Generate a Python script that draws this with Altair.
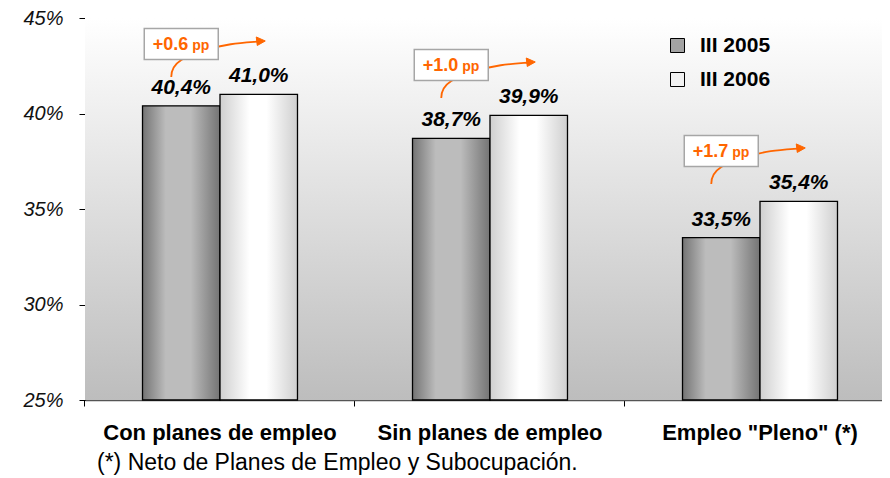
import altair as alt
import pandas as pd

# ---------------- data ----------------
categories = ["Con planes de empleo", "Sin planes de empleo", 'Empleo "Pleno" (*)']
series = ["III 2005", "III 2006"]
v2005 = [40.4, 38.7, 33.5]
v2006 = [41.0, 39.9, 35.4]
diff_labels = ["+0.6", "+1.0", "+1.7"]
footnote = "(*) Neto de Planes de Empleo y Subocupación."

rows = []
for c, a, b in zip(categories, v2005, v2006):
    rows.append({"category": c, "series": series[0], "value": a})
    rows.append({"category": c, "series": series[1], "value": b})
df = pd.DataFrame(rows)

ann = pd.DataFrame({
    "category": categories,
    "series": [series[0]] * 3,
    "v2006": v2006,
    "diff": diff_labels,
})

ORANGE = "#ff6600"
FONT = "Liberation Sans"
W, H = 797, 382

# ---------------- shared encodings ----------------
yaxis = alt.Axis(values=[25, 30, 35, 40, 45], labelExpr="datum.value + '%'",
                 labelFont=FONT, labelFontStyle="italic", labelFontSize=20,
                 labelColor="#111", labelPadding=16, tickSize=6, tickColor="#000",
                 domainColor="#000", domainWidth=1, grid=False, title=None)
yscale = alt.Scale(domain=[25, 45], nice=False, zero=False)

X = alt.X("category:N", sort=categories,
          scale=alt.Scale(range=[0, 810], paddingInner=0.426, paddingOuter=0.213),
          axis=alt.Axis(title=None, labelAngle=0, labelFont=FONT, labelFontSize=22,
                        labelFontWeight="bold", labelColor="#000", labelPadding=16,
                        labelLimit=400,
                        tickSize=6, tickColor="#000", bandPosition=-0.372,
                        domainColor="#555", domainWidth=1.5))
XO = alt.XOffset("series:N", sort=series, scale=alt.Scale(paddingInner=0, paddingOuter=0))


def Y(field):
    return alt.Y(field, scale=yscale, axis=yaxis)


def hgrad(stops):
    return alt.LinearGradient(gradient="linear", x1=0, x2=1, y1=0, y2=0,
                              stops=[alt.GradientStop(color=c, offset=o) for o, c in stops])


bg_grad = alt.LinearGradient(gradient="linear", x1=0, x2=0, y1=0, y2=1,
                             stops=[alt.GradientStop(color="#ffffff", offset=0),
                                    alt.GradientStop(color="#bdbdbd", offset=1)])
dark_grad = hgrad([(0, "#747474"), (0.3, "#bcbcbc"), (0.62, "#bcbcbc"), (1, "#747474")])
light_grad = hgrad([(0, "#cfcfcf"), (0.38, "#ffffff"), (0.6, "#ffffff"), (1, "#cfcfcf")])

base = alt.Chart(df)

background = alt.Chart(alt.Data(values=[{"a": 1}])).mark_rect(fill=bg_grad).encode(
    x=alt.value(0), x2=alt.value("width"), y=alt.value(0), y2=alt.value("height"))

bars05 = base.transform_filter(alt.datum.series == series[0]).mark_bar(
    fill=dark_grad, stroke="#000", strokeWidth=1.3).encode(
    x=X, xOffset=XO, y=Y("value:Q"), y2=alt.datum(25))
bars06 = base.transform_filter(alt.datum.series == series[1]).mark_bar(
    fill=light_grad, stroke="#000", strokeWidth=1.3).encode(
    x=X, xOffset=XO, y=Y("value:Q"), y2=alt.datum(25))

legend_layer = base.mark_square(opacity=0).encode(
    x=X, xOffset=XO, y=Y("value:Q"),
    color=alt.Color("series:N", sort=series,
                    scale=alt.Scale(domain=series, range=["#a3a3a3", "#f2f2f2"]),
                    legend=alt.Legend(orient="none", legendX=582, legendY=17, title=None,
                                      symbolType="square", symbolSize=196,
                                      symbolStrokeColor="#000", symbolStrokeWidth=1,
                                      symbolOpacity=1, labelFont=FONT, labelFontSize=21,
                                      labelFontWeight="bold", labelColor="#000",
                                      labelOffset=12, rowPadding=12, padding=0)))

labels = base.transform_calculate(
    lab="replace(format(datum.value, '.1f'), '.', ',') + '%'"
).mark_text(font=FONT, fontSize=21, fontWeight="bold", fontStyle="italic",
            baseline="alphabetic", dy=-12, color="#000").encode(
    x=X, xOffset=XO, y=Y("value:Q"), text="lab:N")

annb = alt.Chart(ann).transform_calculate(ypos="datum.v2006 + 2.64")

curve_path = "M -0.2 0.66 C -0.2 0.35, 0.1 0.25, 0.5 0.12 S 1.2 -0.02, 1.58 -0.05"
head_path = "M 1.68 -0.06 L 1.5 -0.14 L 1.52 0.03 Z"
box_path = "M -0.74 -0.31 L 0.74 -0.31 L 0.74 0.31 L -0.74 0.31 Z"

curve = annb.mark_point(shape=curve_path, size=10000, filled=False, stroke=ORANGE,
                        strokeWidth=1.8, opacity=1).encode(x=X, xOffset=XO, y=Y("ypos:Q"))
head = annb.mark_point(shape=head_path, size=10000, filled=True, fill=ORANGE,
                       stroke=ORANGE, strokeWidth=1, opacity=1).encode(
    x=X, xOffset=XO, y=Y("ypos:Q"))
box = annb.mark_point(shape=box_path, size=10000, filled=True, fill="#ffffff",
                      stroke="#a6a6a6", strokeWidth=1.5, opacity=1).encode(
    x=X, xOffset=XO, y=Y("ypos:Q"))
diff_text = annb.mark_text(font=FONT, fontSize=18, fontWeight="bold", color=ORANGE,
                           align="right", baseline="alphabetic", dx=7, dy=6).encode(
    x=X, xOffset=XO, y=Y("ypos:Q"), text="diff:N")
pp_text = annb.mark_text(font=FONT, fontSize=14, fontWeight="bold", color=ORANGE,
                         align="left", baseline="alphabetic", dx=11, dy=6, text="pp").encode(
    x=X, xOffset=XO, y=Y("ypos:Q"))

foot = alt.Chart(alt.Data(values=[{"a": 1}])).mark_text(
    text=footnote, font=FONT, fontSize=23, align="left", baseline="alphabetic",
    color="#000").encode(x=alt.value(12), y=alt.value(452))

chart = alt.layer(
    background, bars05, bars06, legend_layer, labels, curve, head, box,
    diff_text, pp_text, foot
).properties(
    width=W, height=H,
    autosize=alt.AutoSizeParams(type="none"),
    padding={"left": 77, "top": 10, "right": 0, "bottom": 78},
).configure_view(stroke=None).configure(background="#ffffff")

chart.save("out.html", embed_options={"renderer": "svg", "actions": False})
